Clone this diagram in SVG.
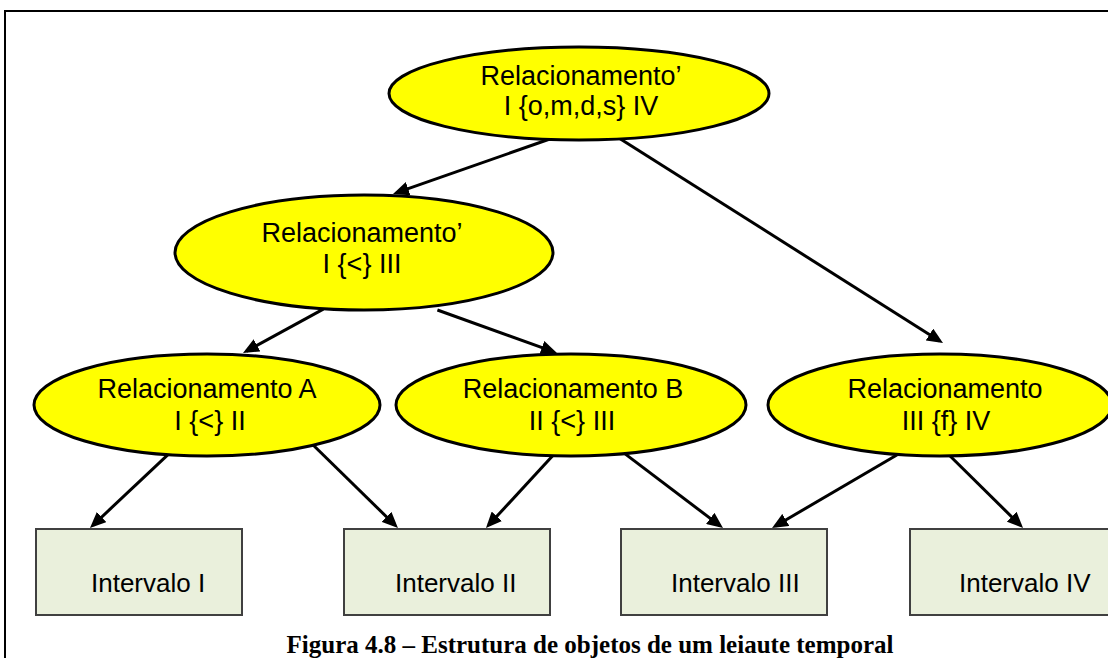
<svg xmlns="http://www.w3.org/2000/svg" width="1108" height="658" viewBox="0 0 1108 658">
<style>
.ell{fill:#FFFF00;stroke:#000;stroke-width:3}
.box{fill:#EAF0DC;stroke:#404040;stroke-width:2}
.t{font-family:"Liberation Sans",Arial,sans-serif;font-size:27px;fill:#000;text-anchor:middle}
.bt{font-family:"Liberation Sans",Arial,sans-serif;font-size:26px;fill:#000}
.cap{font-family:"Liberation Serif","Times New Roman",serif;font-size:25px;font-weight:bold;fill:#000;text-anchor:middle}
.c{stroke:#000;stroke-width:3;fill:none;marker-end:url(#ah)}
</style>
<defs>
<marker id="ah" markerUnits="userSpaceOnUse" viewBox="0 0 16 14" markerWidth="16" markerHeight="14" refX="12" refY="7" orient="auto">
<path d="M0,0 L16,7 L0,14 z" fill="#000"/>
</marker>
</defs>
<rect x="0" y="0" width="1108" height="658" fill="#fff"/>
<rect x="5" y="11" width="1112" height="660" fill="none" stroke="#000" stroke-width="2"/>
<g id="connectors">
<line class="c" x1="552.7" y1="138" x2="396.8" y2="192.7"/>
<line class="c" x1="616.9" y1="136.8" x2="939.6" y2="340.9"/>
<line class="c" x1="323.3" y1="309.1" x2="246.5" y2="351.1"/>
<line class="c" x1="437.4" y1="310" x2="553.2" y2="351.6"/>
<line class="c" x1="179.4" y1="443.9" x2="92.9" y2="525.3"/>
<line class="c" x1="305.7" y1="437.8" x2="395.1" y2="525.2"/>
<line class="c" x1="562.1" y1="445.6" x2="488.7" y2="525.1"/>
<line class="c" x1="615.2" y1="446.4" x2="719.8" y2="525.6"/>
<line class="c" x1="912.2" y1="446" x2="775.5" y2="526"/>
<line class="c" x1="938.7" y1="444.8" x2="1020.2" y2="525.2"/>
</g>
<g id="rel-top">
<ellipse class="ell" cx="579" cy="93.5" rx="190" ry="46.5"/>
<text class="t" x="581" y="85">Relacionamento’</text>
<text class="t" x="581" y="115">I {o,m,d,s} IV</text>
</g>
<g id="rel-mid">
<ellipse class="ell" cx="364" cy="252.5" rx="189" ry="57.5"/>
<text class="t" x="362" y="242">Relacionamento’</text>
<text class="t" x="362" y="273">I {&lt;} III</text>
</g>
<g id="rel-a">
<ellipse class="ell" cx="207" cy="405" rx="173" ry="51"/>
<text class="t" x="207" y="398">Relacionamento A</text>
<text class="t" x="210" y="430">I {&lt;} II</text>
</g>
<g id="rel-b">
<ellipse class="ell" cx="571" cy="405" rx="175" ry="51"/>
<text class="t" x="573" y="398">Relacionamento B</text>
<text class="t" x="572" y="430">II {&lt;} III</text>
</g>
<g id="rel-c">
<ellipse class="ell" cx="940" cy="405" rx="172" ry="51"/>
<text class="t" x="945" y="398">Relacionamento</text>
<text class="t" x="946" y="430">III {f} IV</text>
</g>
<g id="int-1">
<rect class="box" x="36" y="529" width="206" height="86"/>
<text class="bt" x="91" y="592">Intervalo I</text>
</g>
<g id="int-2">
<rect class="box" x="344" y="529" width="206" height="86"/>
<text class="bt" x="395" y="592">Intervalo II</text>
</g>
<g id="int-3">
<rect class="box" x="621" y="529" width="206" height="86"/>
<text class="bt" x="671" y="592">Intervalo III</text>
</g>
<g id="int-4">
<rect class="box" x="910" y="529" width="206" height="86"/>
<text class="bt" x="959" y="592">Intervalo IV</text>
</g>
<text class="cap" x="590" y="653">Figura 4.8 – Estrutura de objetos de um leiaute temporal</text>
</svg>
